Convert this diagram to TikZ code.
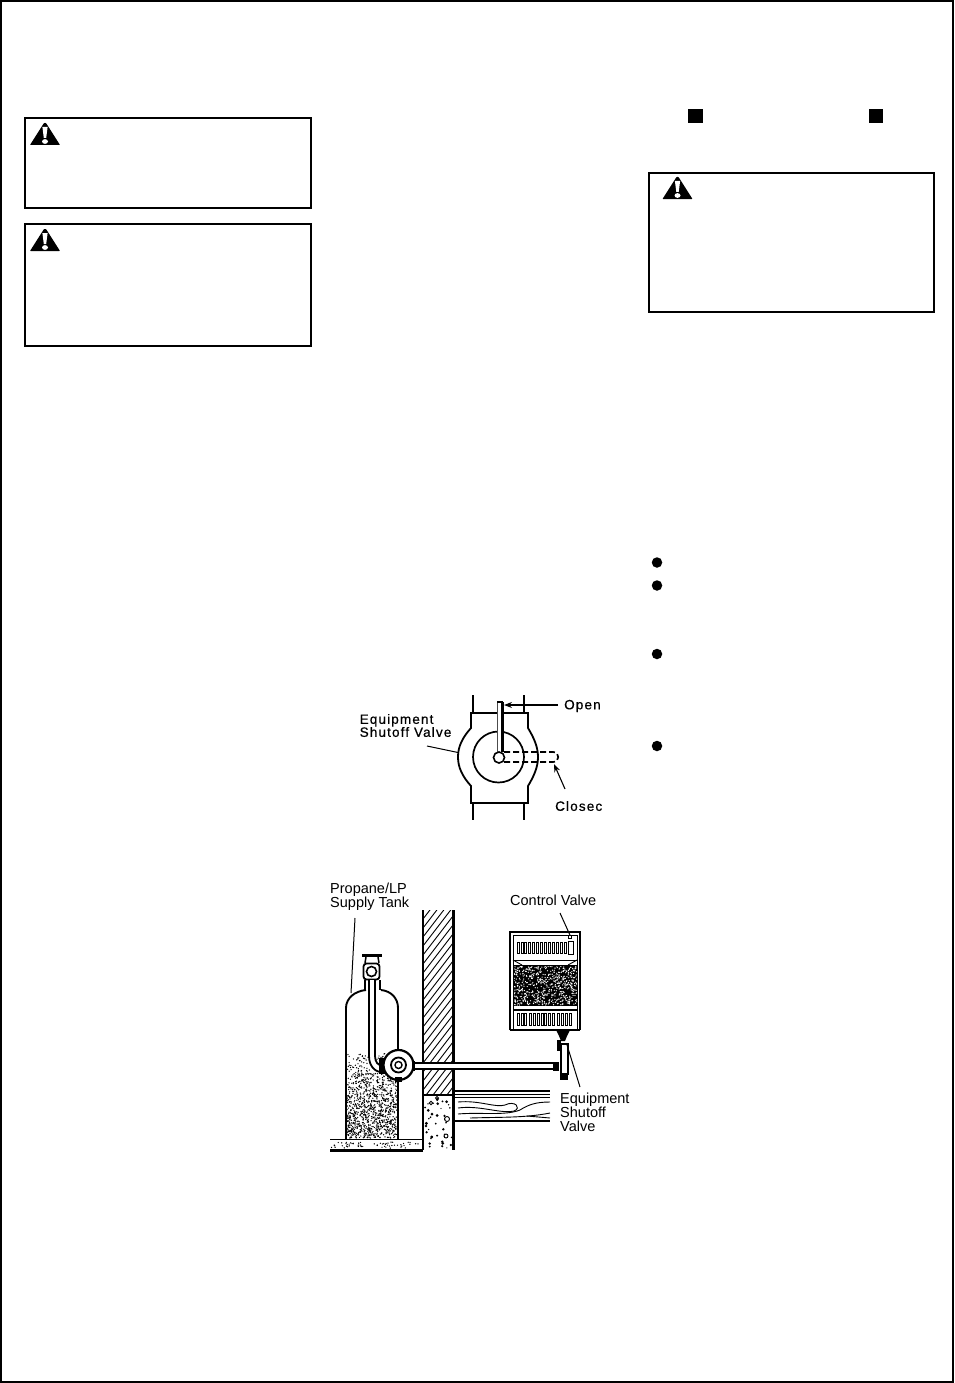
\documentclass[tikz,border=0pt]{standalone}
\usepackage{fontspec}
\setmainfont{Liberation Sans}
\newfontfamily\spacedfont[LetterSpace=8.5,FakeBold=0.6]{Liberation Sans}
\usetikzlibrary{arrows.meta}
\tikzset{
  line/.style={draw=black,line width=1.5pt},
  thinline/.style={draw=black,line width=0.9pt},
  heavy/.style={draw=black,line width=2.2pt},
  warnbox/.style={draw=black,line width=2pt,fill=white},
  figa/.style={inner sep=0pt,anchor=west,align=left,font=\spacedfont\fontsize{13.5}{13}\selectfont},
  figb/.style={inner sep=0pt,anchor=west,align=left,font=\fontsize{14.5}{13.2}\selectfont},
  leader/.style={draw=black,line width=1pt},
  tip/.style={draw=black,line width=1.1pt,-{Stealth[length=8pt,width=6pt]}},
  bulletdot/.style={circle,fill=black,inner sep=0pt,minimum size=10.5pt},
  squaredot/.style={fill=black,inner sep=0pt,minimum size=14.5pt},
  grillbar/.style={draw=black,line width=1pt,fill=white},
}
\newcommand{\warntri}[2]{%
  \fill[black,rounded corners=0.6pt] (#1-1,#2) -- (#1+1,#2) -- (#1+15,#2+22) -- (#1-15,#2+22) -- cycle;
  \fill[white] (#1-2.6,#2+4) -- (#1+2.6,#2+4) -- (#1+1.2,#2+15) -- (#1-1.2,#2+15) -- cycle;
  \fill[white] (#1,#2+18.5) ellipse (3 and 2.4);
}
\begin{document}
\begin{tikzpicture}[x=1pt,y=-1pt]
\useasboundingbox (0,0) rectangle (954,1383);
\fill[white] (0,0) rectangle (954,1383);
\draw[line width=1.6pt] (0.8,0.8) rectangle (953.2,1382.2);

% warning boxes
\node[warnbox,minimum width=286pt,minimum height=90pt,inner sep=0pt] (boxa) at (168,163) {};
\node[warnbox,minimum width=286pt,minimum height=122pt,inner sep=0pt] (boxb) at (168,285) {};
\node[warnbox,minimum width=285pt,minimum height=139pt,inner sep=0pt] (boxc) at (791.5,242.5) {};
\warntri{45}{123}
\warntri{45}{229}
\warntri{677.5}{177}

% squares and bullets
\node[squaredot] (sqa) at (695.5,116) {};
\node[squaredot] (sqb) at (876,116) {};
\node[bulletdot] (bula) at (657,562.5) {};
\node[bulletdot] (bulb) at (657,585.5) {};
\node[bulletdot] (bulc) at (657,654) {};
\node[bulletdot] (buld) at (657,746) {};

% ---------- shutoff valve figure ----------
\draw[line] (473,695) -- (473,713) (524,695) -- (524,713);
\draw[heavy] (473,803) -- (473,820) (524,803) -- (524,820);
\draw[line,line width=1.8pt]
  (471,713) -- (471,728) .. controls (462,738) and (458,747) .. (458,757)
  .. controls (458,767) and (462,776) .. (471,786) -- (471,803) -- (528,803)
  -- (528,786) .. controls (534,776) and (538,767) .. (538,757)
  .. controls (538,747) and (534,738) .. (528,728) -- (528,713);
\draw[heavy,line width=2.8pt] (470,713) -- (529,713);
\draw[line,line width=1.7pt] (498.5,757) circle (25.5);
\draw[line,line width=1.7pt,dash pattern=on 6pt off 3pt] (504,752) -- (553,752) .. controls (560,752) and (560,762) .. (553,762) -- (504,762);
\fill[white] (497,702) rectangle (503,752);
\draw[thinline,draw=black!70] (497,702) -- (497,752);
\draw[heavy] (502.5,702) -- (502.5,752);
\draw[line] (497,702) -- (503,702);
\node[circle,draw=black,line width=1.6pt,fill=white,minimum size=11pt,inner sep=0pt] (hub) at (499,757.5) {};
\node[figa] (lblopen) at (564,706) {Open};
\node[figa] (lblclosed) at (555,806) {Closec};
\node[figa] (lblvalve) at (359.5,725.5) {Equipment\\Shutoff Valve};
\coordinate (openend) at (504,705);
\coordinate (closedend) at (554,764);
\coordinate (closedstart) at (565,789);
\coordinate (valvestart) at (427,746);
\coordinate (valveend) at (458,752.5);
\draw[tip] (lblopen.west) ++(-6,-1) -- (openend);
\draw[tip] (closedstart) -- (closedend);
\draw[leader] (valvestart) -- (valveend);

% ---------- installation figure ----------
% wall hatch
\begin{scope}
\clip (423,910) rectangle (453,1095);
\foreach \k in {0,...,26} {
  \draw[thinline] (423,910+\k*9) -- (453,910+\k*9-39);
}
\end{scope}
\draw[thinline,line width=1.2pt] (423,910) -- (423,1150);
\draw[heavy] (453.5,910) -- (453.5,1150);
\draw[heavy] (423,1095) -- (453.5,1095);
% foundation speckle
\pgfmathsetseed{7}
\begin{scope}
\clip (424,1096) rectangle (453,1150);
\foreach \k in {1,...,38} {
  \pgfmathsetmacro{\px}{425+27*rnd}
  \pgfmathsetmacro{\py}{1098+50*rnd}
  \pgfmathsetmacro{\pr}{0.6+1.0*rnd}
  \fill[black] (\px,\py) circle (\pr);
}
\draw[thinline] (431,1103) circle (1.8) (446,1136) circle (2) (447,1119) circle (2.5) (437,1098) circle (1.6);
\end{scope}
% slab
\pgfmathsetseed{11}
\draw[thinline] (330,1139.5) -- (423,1139.5);
\draw[heavy,line width=2.4pt] (330,1150.5) -- (423,1150.5);
\foreach \k in {1,...,60} {
  \pgfmathsetmacro{\px}{331+90*rnd}
  \pgfmathsetmacro{\py}{1142+6.5*rnd}
  \fill[black] (\px,\py) circle (0.7);
}
% tank
\draw[line,line width=1.9pt] (346,1139) -- (346,1008) .. controls (346,998) and (355,991) .. (366,990);
\draw[line,line width=1.9pt] (381,990) .. controls (391,991) and (398,998) .. (398,1008) -- (398,1139);
\pgfmathsetseed{23}
\begin{scope}
\clip (347,1053) rectangle (397,1139);
\foreach \k in {1,...,1100} {
  \pgfmathsetmacro{\px}{347+50*rnd}
  \pgfmathsetmacro{\py}{1052+86*rnd^0.7}
  \fill[black] (\px,\py) circle (0.7);
}
\end{scope}
% tank valve
\draw[heavy,line width=2.8pt] (362,955.5) -- (382,955.5);
\draw[line] (366,957) -- (365,963) (378,957) -- (379,963);
\draw[line] (365,980) -- (365,990) (380,980) -- (380,990);
\node[draw=black,line width=1.8pt,rounded corners=3pt,fill=white,minimum size=16pt,inner sep=0pt] (tankvalve) at (371.5,971.5) {};
\node[circle,draw=black,line width=1.6pt,fill=white,minimum size=10pt,inner sep=0pt] (tankport) at (371.5,971.5) {};
% dip pipe
\fill[white] (369,980) -- (375,980) -- (375,1056) .. controls (375,1062) and (378,1066) .. (384,1066) -- (384,1072) .. controls (375,1073) and (369,1066) .. (369,1056) -- cycle;
\draw[line,line width=1.8pt] (369,980) -- (369,1056) .. controls (369,1066) and (375,1073) .. (384,1072);
\draw[line,line width=1.8pt] (375,980) -- (375,1056) .. controls (375,1062) and (378,1066) .. (384,1066);
% supply pipe
\fill[white] (412,1063) rectangle (553,1069);
\draw[line,line width=1.9pt] (412,1063) -- (553,1063) (412,1069) -- (553,1069);
% regulator
\fill[black] (379,1058) rectangle (386,1074);
\node[circle,draw=black,line width=2.2pt,fill=white,minimum size=30pt,inner sep=0pt] (reg) at (398.5,1065) {};
\node[circle,draw=black,line width=1.8pt,fill=white,minimum size=15pt,inner sep=0pt] (regb) at (398.5,1065) {};
\node[circle,draw=black,line width=1.4pt,fill=white,minimum size=7pt,inner sep=0pt] (regc) at (398.5,1065) {};
\fill[black] (395,1077) rectangle (402,1082);
\fill[black] (412,1061) rectangle (415,1071);
% joist
\draw[heavy] (454,1091) -- (550,1091);
\draw[line] (454,1094.5) -- (550,1094.5);
\draw[line] (454,1097.5) -- (550,1097.5);
\draw[heavy] (454,1121) -- (550,1121);
\draw[thinline] (458,1102) .. controls (480,1100) and (495,1108) .. (505,1105) .. controls (515,1100) and (522,1108) .. (514,1111) .. controls (500,1114) and (480,1105) .. (458,1108);
\draw[thinline] (458,1114) .. controls (480,1112) and (505,1116) .. (520,1110) .. controls (528,1105) and (535,1102) .. (550,1102);
\draw[thinline] (470,1118) .. controls (500,1117) and (525,1118) .. (550,1113);
\draw[thinline] (527,1116) -- (550,1118);
% heater
\draw[line,line width=1.3pt,fill=white] (510,1030) -- (510,932) -- (580,932) -- (580,1030);
\draw[thinline] (513,1029) -- (513,935) -- (577,935) -- (577,1029);
\draw[line] (510,1030) -- (580,1030);
\draw[thinline] (513,960) -- (577,960);
\fill[black] (513,965) rectangle (578,1006);
\draw[thinline] (513,960) -- (522,965) (577,960) -- (568,965);
\pgfmathsetseed{5}
\begin{scope}
\clip (514,966) rectangle (577,1005);
\foreach \k in {1,...,600} {
  \pgfmathsetmacro{\px}{514+63*rnd}
  \pgfmathsetmacro{\py}{966+39*rnd}
  \fill[white] (\px,\py) circle (0.65);
}
\end{scope}
\draw[line] (513,1010) -- (577,1010);
\foreach \bx in {517,521,524,528,532,536,540,544,548,552,556,560,564} {
  \draw[grillbar] (\bx,942) rectangle ++(2,11);
}
\foreach \bx in {517,521,524,529,533,537,541,544,548,552,557,561,565,569} {
  \draw[grillbar] (\bx,1013) rectangle ++(2,12);
}
\draw[thinline] (568,941) rectangle (573,954);
\node[draw=black,line width=0.7pt,minimum size=3pt,inner sep=0pt] (ctrl) at (570,937) {};
% shutoff under heater
\fill[black] (556,1030) -- (570,1030) -- (567,1036) -- (565,1041) -- (561,1041) -- (559,1036) -- cycle;
\draw[line,fill=white] (561,1044) rectangle (568,1074);
\fill[black] (557,1040) rectangle (561,1051);
\fill[black] (560,1073) rectangle (568,1080);
\fill[black] (553,1062) rectangle (559,1071);
% labels and leaders
\node[figb] (lbltank) at (330,896.5) {Propane/LP\\Supply Tank};
\node[figb] (lblctrl) at (510,900) {Control Valve};
\node[figb] (lblshut) at (560,1112) {Equipment\\Shutoff\\Valve};
\coordinate (tanka) at (355,918);
\coordinate (tankb) at (351,993);
\coordinate (ctrla) at (560,913);
\coordinate (shuta) at (580,1087);
\coordinate (shutb) at (567,1045);
\draw[leader] (tanka) -- (tankb);
\draw[leader] (ctrla) -- (ctrl.north);
\draw[leader] (shuta) -- (shutb);
\end{tikzpicture}
\end{document}
